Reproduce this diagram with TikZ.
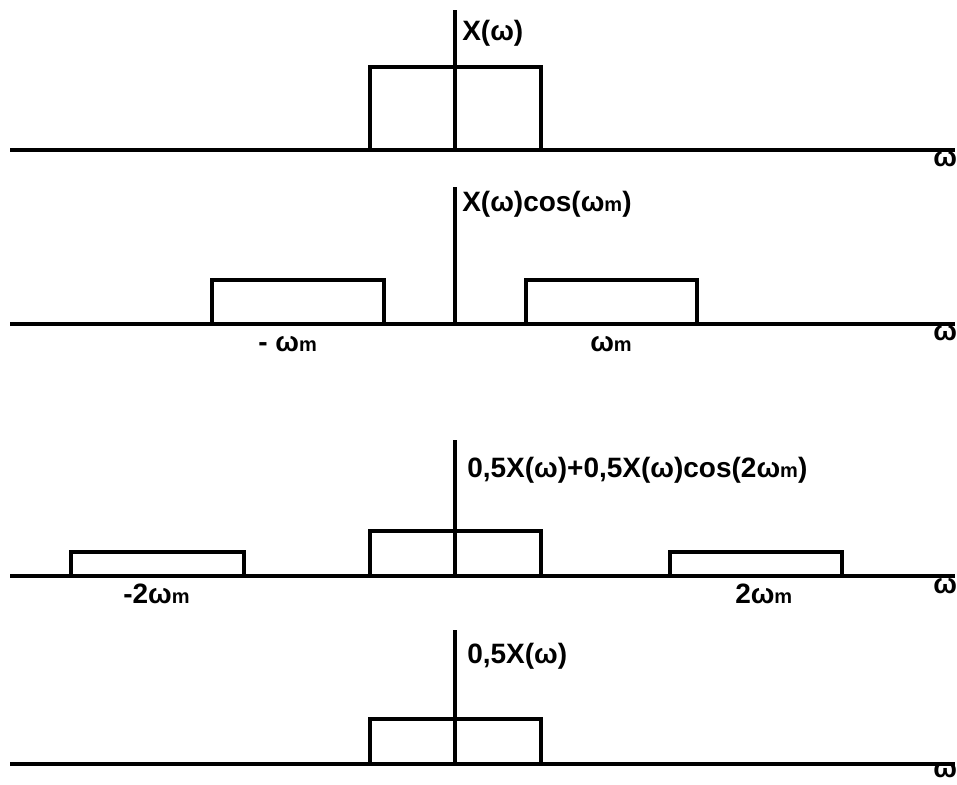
\documentclass[tikz,border=0pt]{standalone}
\usepackage{fontspec}
\setmainfont{Liberation Sans}
% omega with a small "m" sitting on the baseline
\newcommand\omm{ω{\fontsize{15}{17}\selectfont m}}
\begin{document}
\begin{tikzpicture}[x=0.75pt,y=-0.75pt,
  axisline/.style={draw=black, line width=2.3pt},
  band/.style={draw=black, line width=2.3pt, line join=miter},
  lbl/.style={font=\fontsize{21}{25}\selectfont\bfseries, inner sep=0pt, anchor=base west},
  ttl/.style={font=\fontsize{21}{25}\selectfont\bfseries, inner sep=0pt, anchor=base west}]
\useasboundingbox (0,0) rectangle (957,785);

% ---------- spectrum 1: X(w) ----------
\coordinate (a1l) at (10,150);
\coordinate (a1r) at (955,150);
\coordinate (v1t) at (455,10);
\coordinate (v1b) at (455,150);
\draw[axisline] (a1l) -- (a1r);
\draw[axisline] (v1t) -- (v1b);
\draw[band] (370,150) -- (370,67) -- (541,67) -- (541,150);
\node[ttl] (t1) at (462,40) {X(ω)};
\node[lbl] (w1) at (933,166) {ω};

% ---------- spectrum 2: X(w)cos(wm) ----------
\coordinate (a2l) at (10,324);
\coordinate (a2r) at (955,324);
\coordinate (v2t) at (455,187);
\coordinate (v2b) at (455,324);
\draw[axisline] (a2l) -- (a2r);
\draw[axisline] (v2t) -- (v2b);
\draw[band] (212,324) -- (212,280) -- (384,280) -- (384,324);
\draw[band] (526,324) -- (526,280) -- (697,280) -- (697,324);
\node[ttl] (t2) at (462,211) {X(ω)cos(\omm)};
\node[lbl] (m2l) at (258,351) {- \omm};
\node[lbl] (m2r) at (590,351) {\omm};
\node[lbl] (w2) at (933,340) {ω};

% ---------- spectrum 3: 0,5X(w)+0,5X(w)cos(2wm) ----------
\coordinate (a3l) at (10,576);
\coordinate (a3r) at (955,576);
\coordinate (v3t) at (455,440);
\coordinate (v3b) at (455,576);
\draw[axisline] (a3l) -- (a3r);
\draw[axisline] (v3t) -- (v3b);
\draw[band] (370,576) -- (370,531) -- (541,531) -- (541,576);
\draw[band] (71,576) -- (71,552) -- (244,552) -- (244,576);
\draw[band] (670,576) -- (670,552) -- (842,552) -- (842,576);
\node[ttl] (t3) at (467,477) {0,5X(ω)+0,5X(ω)cos(2\omm)};
\node[lbl] (m3l) at (123,603) {-2\omm};
\node[lbl] (m3r) at (735,603) {2\omm};
\node[lbl] (w3) at (933,593) {ω};

% ---------- spectrum 4: 0,5X(w) ----------
\coordinate (a4l) at (10,764);
\coordinate (a4r) at (955,764);
\coordinate (v4t) at (455,630);
\coordinate (v4b) at (455,764);
\draw[axisline] (a4l) -- (a4r);
\draw[axisline] (v4t) -- (v4b);
\draw[band] (370,764) -- (370,719) -- (541,719) -- (541,764);
\node[ttl] (t4) at (467,663) {0,5X(ω)};
\node[lbl] (w4) at (933,777) {ω};
\end{tikzpicture}
\end{document}
